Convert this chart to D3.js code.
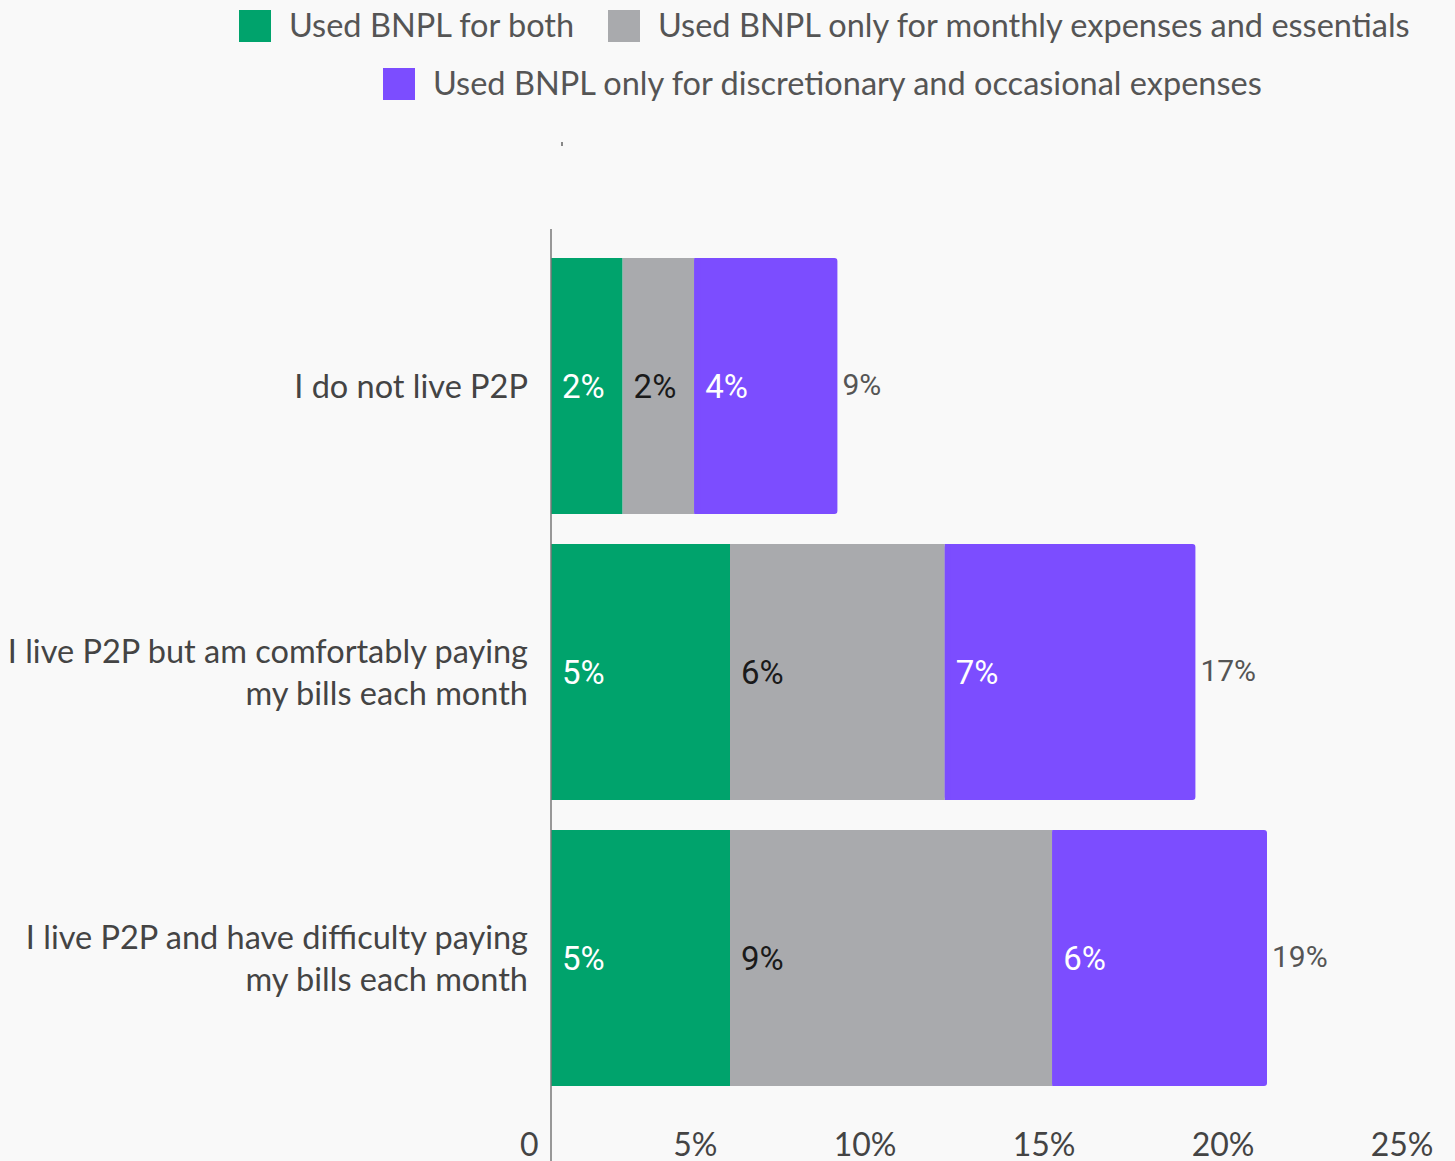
<!DOCTYPE html>
<html>
<head>
<meta charset="utf-8">
<script src="https://cdn.jsdelivr.net/npm/d3@7"></script>
<style>
  html, body { margin: 0; padding: 0; background: #f9f9f9; }
  svg { display: block; }
</style>
</head>
<body>
<svg id="chart" width="1455" height="1161"></svg>
<script>
// Survey groups (each label split over its display lines)
const categories = [
  "I do not live P2P",
  "I live P2P but am comfortably paying my bills each month",
  "I live P2P and have difficulty paying my bills each month"
];
const categoryLines = [
  ["I do not live P2P"],
  ["I live P2P but am comfortably paying", "my bills each month"],
  ["I live P2P and have difficulty paying", "my bills each month"]
];

// Share of respondents (%) per BNPL usage type
const seriesNames = [
  "Used BNPL for both",
  "Used BNPL only for monthly expenses and essentials",
  "Used BNPL only for discretionary and occasional expenses"
];
const bothValues = [2, 5, 5];
const essentialsValues = [2, 6, 9];
const discretionaryValues = [4, 7, 6];
const totalLabels = [9, 17, 19];

const xTicks = [0, 5, 10, 15, 20, 25];
const xTickLabels = ["0", "5%", "10%", "15%", "20%", "25%"];

const colors = ["#00a36c", "#a9aaad", "#7c4dff"];
const labelColors = ["#ffffff", "#1a1a1a", "#ffffff"];

const svg = d3.select("#chart");
const W = 1455, H = 1161;
svg.append("rect").attr("width", W).attr("height", H).attr("fill", "#f9f9f9");

const x = d3.scaleLinear().domain([0, 25]).range([551, 1446]);
const y = d3.scaleBand().domain(categories).range([258, 1086])
  .paddingInner(30 / 286).paddingOuter(0);

// Build stacked rows
const rows = categories.map((c, i) => ({
  category: c,
  s0: bothValues[i],
  s1: essentialsValues[i],
  s2: discretionaryValues[i]
}));
const stack = d3.stack().keys(["s0", "s1", "s2"])(rows);

const g = svg.append("g");

stack.forEach((layer, li) => {
  const lg = g.append("g");
  lg.selectAll("rect")
    .data(layer)
    .join("rect")
    .attr("x", d => x(d[0]))
    .attr("y", d => y(d.data.category))
    .attr("width", d => x(d[1]) - x(d[0]))
    .attr("height", y.bandwidth())
    .attr("rx", li === 2 ? 3 : 0)
    .attr("fill", colors[li]);
  // cover the rounded left side of the last segment
  if (li === 2) {
    lg.selectAll("rect.sq")
      .data(layer)
      .join("rect")
      .attr("class", "sq")
      .attr("x", d => x(d[0]))
      .attr("y", d => y(d.data.category))
      .attr("width", 6)
      .attr("height", y.bandwidth())
      .attr("fill", colors[li]);
  }
  lg.selectAll("text")
    .data(layer)
    .join("text")
    .attr("x", d => x(d[0]) + 11)
    .attr("y", d => y(d.data.category) + y.bandwidth() / 2)
    .attr("dy", "0.35em")
    .attr("font-family", "Roboto, sans-serif")
    .attr("font-size", 33)
    .attr("fill", labelColors[li])
    .text(d => (d[1] - d[0]) + "%");
});

// Totals at the end of each stack
const last = stack[stack.length - 1];
g.append("g").selectAll("text")
  .data(last)
  .join("text")
  .attr("x", d => x(d[1]) + 5)
  .attr("y", d => y(d.data.category) + y.bandwidth() / 2 - 2)
  .attr("dy", "0.35em")
  .attr("font-family", "Roboto, sans-serif")
  .attr("font-size", 30)
  .attr("fill", "#555")
  .text((d, i) => totalLabels[i] + "%");

// Category axis line
g.append("line")
  .attr("x1", x(0)).attr("x2", x(0))
  .attr("y1", 229).attr("y2", H)
  .attr("stroke", "#777").attr("stroke-width", 1.5);

// Category labels
const catG = g.append("g");
categories.forEach((c, i) => {
  const lines = categoryLines[i];
  const lh = 42;
  const cy = y(c) + y.bandwidth() / 2 + 1;
  const t = catG.append("text")
    .attr("text-anchor", "end")
    .attr("font-family", "Lato, sans-serif")
    .attr("font-size", 32.5)
    .attr("fill", "#444");
  lines.forEach((ln, j) => {
    t.append("tspan")
      .attr("x", 528)
      .attr("y", cy + (j - (lines.length - 1) / 2) * lh)
      .attr("dy", "0.35em")
      .text(ln);
  });
});

// Value axis labels (no domain line or tick marks)
const xAxis = d3.axisBottom(x).tickValues(xTicks)
  .tickFormat((d, i) => xTickLabels[i]).tickSize(0).tickPadding(0);
const xa = g.append("g").attr("transform", "translate(0,1145)").call(xAxis);
xa.select(".domain").remove();
xa.selectAll("text")
  .attr("text-anchor", "end")
  .attr("dx", -13)
  .attr("y", 0)
  .attr("dy", "0.35em")
  .attr("font-family", "Lato, sans-serif")
  .attr("font-size", 32)
  .attr("fill", "#444");

// Small tick above the plot
g.append("line")
  .attr("x1", 562).attr("x2", 562).attr("y1", 142).attr("y2", 146)
  .attr("stroke", "#888").attr("stroke-width", 2);

// Legend
const legendRows = [
  [{ i: 0, x: 239 }, { i: 1, x: 608 }],
  [{ i: 2, x: 383 }]
];
const legendY = [26, 84];
const lg = svg.append("g");
legendRows.forEach((row, r) => {
  row.forEach(item => {
    lg.append("rect")
      .attr("x", item.x).attr("y", legendY[r] - 16)
      .attr("width", 32).attr("height", 32)
      .attr("fill", colors[item.i]);
    lg.append("text")
      .attr("x", item.x + 50).attr("y", legendY[r])
      .attr("dy", "0.35em")
      .attr("font-family", "Lato, sans-serif")
      .attr("font-size", 32.5)
      .attr("fill", "#555")
      .text(seriesNames[item.i]);
  });
});
</script>
</body>
</html>
